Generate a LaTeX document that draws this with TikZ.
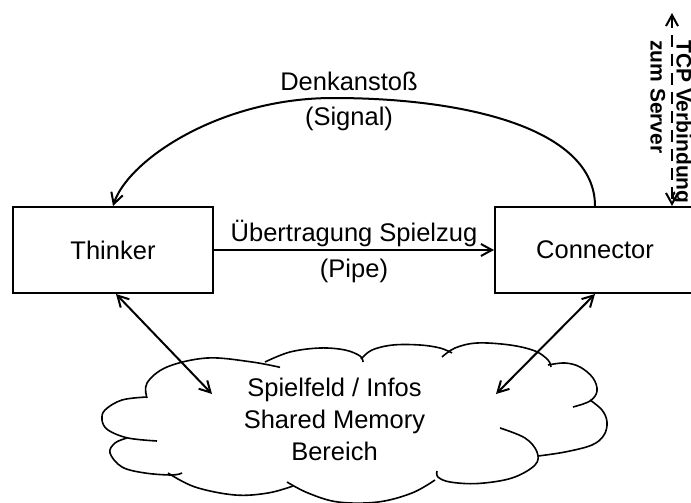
\documentclass[tikz,border=0pt]{standalone}
\usepackage{fontspec}
\setmainfont{Liberation Sans}
\usetikzlibrary{arrows.meta}
\begin{document}
\begin{tikzpicture}[x=1pt,y=-1pt,
  box/.style={draw, line width=2pt, minimum width=200pt, minimum height=86pt, inner sep=0pt, font=\fontsize{25.5}{30}\selectfont},
  tip/.style={Straight Barb[length=11pt,width=12pt]},
  conn/.style={line width=2pt, -{Straight Barb[length=11pt,width=12pt]}},
  biconn/.style={line width=2pt, {Straight Barb[length=11pt,width=12pt]}-{Straight Barb[length=11pt,width=12pt]}},
  lbl/.style={font=\fontsize{25.5}{35}\selectfont, inner sep=0pt},
  puff/.style={line width=1.6pt, smooth, tension=0.6}]
\useasboundingbox (0,0) rectangle (691,503);

% boxes
\node[box] (thinker) at (113,250) {Thinker};
\node[box] (conn) at (595,250) {Connector};

% pipe arrow
\draw[conn] (thinker.east) -- (conn.west)
  node[midway, anchor=base, yshift=8.3pt, lbl] (pipe1) {Übertragung Spielzug}
  node[midway, anchor=base, yshift=-27.7pt, lbl] (pipe2) {(Pipe)};

% signal arc
\draw[conn] (conn.north) .. controls (595,130) and (470,98) .. (333,98)
  .. controls (220,98) and (128,160) .. (thinker.north);
\node[lbl, align=center, anchor=north] (sig) at (349,71.4) {Denkanstoß\\(Signal)};

% TCP
\coordinate (tcp) at (672,13);
\draw[line width=2pt, dash pattern=on 12pt off 7pt, {Straight Barb[length=11pt,width=12pt]}-{Straight Barb[length=11pt,width=12pt]}] (tcp) -- (tcp |- conn.north);
\node[rotate=-90, anchor=north west, align=left, inner sep=0pt, font=\bfseries\fontsize{21}{26}\selectfont] (tcptext) at (692,40) {TCP Verbindung\\zum Server};

% cloud
\draw[puff] plot coordinates {(147,398) (147,383) (167,367) (207,358) (250,361.7) (280,367.3)};
\draw[puff] plot coordinates {(265,362) (290,352) (320,348) (345,350) (360,356) (363,362)};
\draw[puff] plot coordinates {(361,359) (372,350) (393,345) (420,345) (440,348) (452,353)};
\draw[puff] plot coordinates {(442,357) (455,348) (477,343) (510,345) (535,351) (548,360) (551,367)};
\draw[puff] plot coordinates {(548,365) (565,363) (580,367) (593,378) (597,391) (590,401) (573,407)};
\draw[puff] plot coordinates {(590,400) (602,410) (607,422) (604,435) (592,445) (565,452) (538,456)};
\draw[puff] plot coordinates {(500,428) (525,438) (537,452) (535,465) (512,478) (478,483.5) (450,482) (438,477) (437,471)};
\draw[puff] plot coordinates {(435,480) (412,493) (378,502) (338,502) (308,493) (287,482)};
\draw[puff] plot coordinates {(168,473) (195,487) (235,495) (268,493) (293,486)};
\draw[puff] plot coordinates {(127,438) (115,443) (110,453) (122,467) (145,473) (172,475) (182,473)};
\draw[puff] plot coordinates {(147,397) (122,400) (105,410) (102,420) (108,430) (128,438) (157,441)};
\node[align=center, anchor=north, inner sep=0pt, font=\fontsize{25.5}{32}\selectfont] (mem) at (334.5,377.4) {Spielfeld / Infos\\Shared Memory\\Bereich};

% shared memory arrows
\coordinate (ml) at (212,394);
\coordinate (mr) at (496,394);
\draw[biconn] ([xshift=3pt]thinker.south) -- (ml);
\draw[biconn] (conn.south) -- (mr);
\end{tikzpicture}
\end{document}
